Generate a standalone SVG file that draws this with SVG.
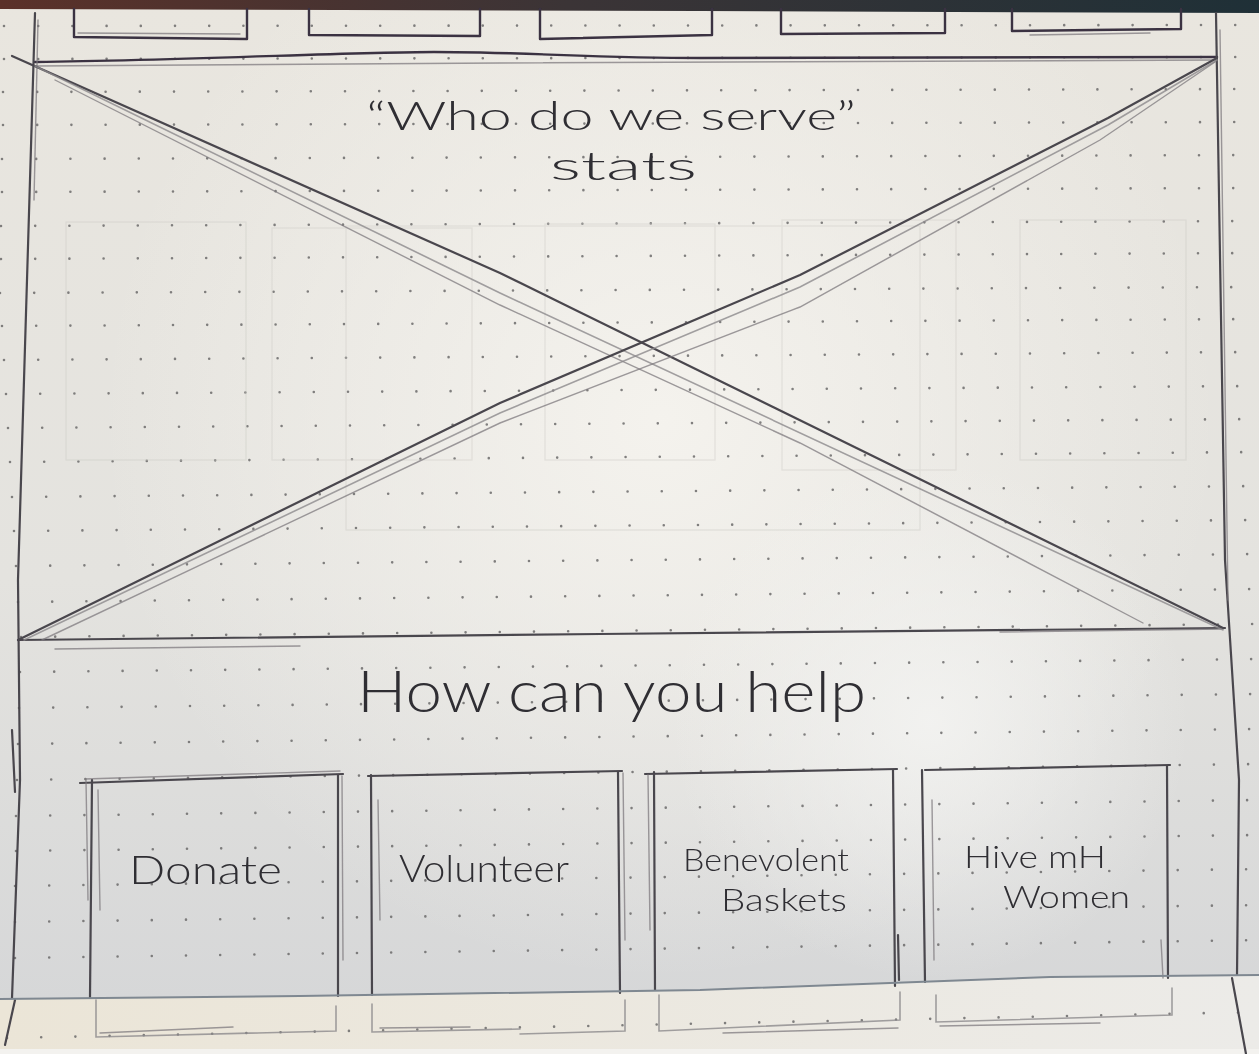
<svg xmlns="http://www.w3.org/2000/svg" width="1259" height="1054" viewBox="0 0 1259 1054">
  <defs>
    <linearGradient id="paperTone" x1="0" y1="0" x2="0" y2="1">
      <stop offset="0" stop-color="#e9e6df"/>
      <stop offset="0.55" stop-color="#e4e3df"/>
      <stop offset="0.95" stop-color="#d6d7d8"/>
    </linearGradient>
    <radialGradient id="glow" cx="660" cy="420" r="560" gradientUnits="userSpaceOnUse">
      <stop offset="0" stop-color="#f5f3ee" stop-opacity="0.95"/>
      <stop offset="1" stop-color="#f5f3ee" stop-opacity="0"/>
    </radialGradient>
    <radialGradient id="glow2" cx="930" cy="720" r="260" gradientUnits="userSpaceOnUse">
      <stop offset="0" stop-color="#f3f3f1" stop-opacity="0.9"/>
      <stop offset="1" stop-color="#f3f3f1" stop-opacity="0"/>
    </radialGradient>
    <linearGradient id="strip" x1="0" y1="0" x2="1" y2="0">
      <stop offset="0" stop-color="#5b3129"/>
      <stop offset="0.45" stop-color="#3b3436"/>
      <stop offset="1" stop-color="#1f3037"/>
    </linearGradient>
    <linearGradient id="lowerSheet" x1="0" y1="0" x2="1" y2="0">
      <stop offset="0" stop-color="#ebe5d7"/>
      <stop offset="1" stop-color="#ecebe8"/>
    </linearGradient>
    <filter id="pencil" x="-2%" y="-2%" width="104%" height="104%">
      <feGaussianBlur stdDeviation="0.45"/>
    </filter>
    <style>
      .pen  { fill: none; stroke: #4a464d; stroke-width: 2.2; stroke-linecap: round; stroke-linejoin: round; }
      .ink  { fill: none; stroke: #3b3342; stroke-width: 2.4; stroke-linecap: round; stroke-linejoin: round; }
      .pen2 { fill: none; stroke: #7d7a7e; stroke-width: 1.4; stroke-linecap: round; opacity: 0.75; }
      .soft { fill: none; stroke: #8c898c; stroke-width: 1.6; stroke-linecap: round; opacity: 0.8; }
      .ghost { fill: none; stroke: #cfcdc8; stroke-width: 1.3; opacity: 0.45; }
      .dots { fill: none; stroke: #6c6b6b; stroke-width: 2.6; stroke-linecap: round; stroke-dasharray: 0 34.2; opacity: 0.85; }
      .hand { font-family: "Lato", "Open Sans", "DejaVu Sans", sans-serif; font-weight: 300; fill: #2f2e33; }
    </style>
  </defs>

  <!-- paper -->
  <rect x="0" y="0" width="1259" height="1054" fill="url(#paperTone)"/>
  <rect x="0" y="0" width="1259" height="1054" fill="url(#glow)"/>
  <rect x="0" y="0" width="1259" height="1054" fill="url(#glow2)"/>
  <!-- lower sheet under the crease -->
  <path d="M0,999 L300,996 L700,990 L1050,977 L1259,975 V1054 H0 Z" fill="url(#lowerSheet)"/>
  <rect x="0" y="1049" width="1259" height="5" fill="#f3f2ef"/>
  <!-- dark table edge at top -->
  <path d="M0,0 H1259 V13 L700,11 L0,9 Z" fill="url(#strip)"/>

  <!-- dot grid rows -->
  <g id="dot-grid">
    <line class="dots" x1="4" y1="26" x2="1259" y2="25"/>
    <line class="dots" x1="4" y1="59" x2="1259" y2="57"/>
    <line class="dots" x1="3" y1="92" x2="1259" y2="89"/>
    <line class="dots" x1="3" y1="125" x2="1259" y2="122"/>
    <line class="dots" x1="2" y1="159" x2="1259" y2="155"/>
    <line class="dots" x1="2" y1="192" x2="1259" y2="188"/>
    <line class="dots" x1="1" y1="226" x2="1259" y2="221"/>
    <line class="dots" x1="1" y1="259" x2="1259" y2="253"/>
    <line class="dots" x1="0" y1="293" x2="1259" y2="287"/>
    <line class="dots" x1="2" y1="326" x2="1259" y2="319"/>
    <line class="dots" x1="4" y1="360" x2="1259" y2="352"/>
    <line class="dots" x1="6" y1="394" x2="1259" y2="386"/>
    <line class="dots" x1="8" y1="428" x2="1259" y2="419"/>
    <line class="dots" x1="10" y1="462" x2="1259" y2="452"/>
    <line class="dots" x1="12" y1="497" x2="1259" y2="486"/>
    <line class="dots" x1="14" y1="531" x2="1259" y2="520"/>
    <line class="dots" x1="16" y1="566" x2="1259" y2="554"/>
    <line class="dots" x1="18" y1="602" x2="1259" y2="589"/>
    <line class="dots" x1="21" y1="637" x2="1259" y2="624"/>
    <line class="dots" x1="20" y1="672" x2="1259" y2="659"/>
    <line class="dots" x1="19" y1="708" x2="1259" y2="694"/>
    <line class="dots" x1="18" y1="744" x2="1259" y2="729"/>
    <line class="dots" x1="17" y1="780" x2="1259" y2="764"/>
    <line class="dots" x1="16" y1="816" x2="1259" y2="800"/>
    <line class="dots" x1="16" y1="851" x2="1259" y2="835"/>
    <line class="dots" x1="15" y1="886" x2="1259" y2="869"/>
    <line class="dots" x1="15" y1="922" x2="1259" y2="905"/>
    <line class="dots" x1="15" y1="958" x2="1259" y2="940"/>
    <line class="dots" x1="7" y1="1038" x2="1259" y2="1012"/>
  </g>

  <!-- faint shapes showing through from the reverse side -->
  <g id="reverse-side" class="ghost">
    <rect x="66" y="222" width="180" height="238"/>
    <rect x="272" y="228" width="200" height="232"/>
    <rect x="346" y="226" width="574" height="304"/>
    <rect x="545" y="224" width="170" height="236"/>
    <rect x="782" y="220" width="174" height="250"/>
    <rect x="1020" y="220" width="166" height="240"/>
  </g>

  <g filter="url(#pencil)">
  <!-- tabs across the top -->
  <g id="tab-top-1"><path class="ink" d="M74,9 V37 L247,39 V9"/><path class="pen2" d="M78,33 L240,34"/></g>
  <g id="tab-top-2"><path class="ink" d="M309,9 V35 L480,36 V9"/></g>
  <g id="tab-top-3"><path class="ink" d="M540,9 V39 L712,35 V9"/></g>
  <g id="tab-top-4"><path class="ink" d="M781,9 V34 L945,33 V9"/></g>
  <g id="tab-top-5"><path class="ink" d="M1012,9 V31 L1181,29 V9"/><path class="pen2" d="M1030,35 L1150,33"/></g>

  <!-- page frame -->
  <g id="frame">
    <path class="ink" d="M35,62 C200,60 350,52 434,52 C520,52 600,58 700,58 L1217,57"/>
    <path class="pen2" d="M35,66 L500,63 L1217,60"/>
    <path class="pen" d="M35,13 L18,580 L20,780 L12,998"/>
    <path class="pen2" d="M38,20 L34,200"/>
    <path class="pen" d="M1216,13 L1225,560 L1239,780 L1237,975"/>
    <path class="pen2" d="M1220,30 L1228,600"/>
    <path class="pen" d="M15,1000 L5,1045"/>
    <path class="pen" d="M1232,978 L1246,1054"/>
    <path class="pen" d="M12,730 L15,792" stroke-width="3"/>
  </g>

  <!-- hero placeholder with crossed diagonals -->
  <g id="hero">
    <path class="pen" d="M18,640 L600,634 L1225,628"/>
    <path class="pen2" d="M55,649 L300,646"/>
    <path class="pen2" d="M1000,632 L1223,629"/>
    <path class="pen" d="M12,56 L500,273 L1223,628"/>
    <path class="soft" d="M35,66 L500,293 L1223,630"/>
    <path class="pen2" d="M55,80 L500,305 L800,443 L1143,623"/>
    <path class="pen" d="M18,640 L500,403 L800,275 L1108,118 L1217,58"/>
    <path class="soft" d="M24,640 L500,413 L800,287 L1108,125 L1217,60"/>
    <path class="pen2" d="M42,640 L500,423 L800,307 L1100,140 L1215,62"/>
  </g>

  <!-- four option cards: outlines -->
  <g id="card-donate-outline">
    <path class="pen" d="M80,783 L343,774"/>
    <path class="pen2" d="M85,779 L340,771"/>
    <path class="pen" d="M92,780 L90,998"/>
    <path class="pen2" d="M86,780 L88,900"/>
    <path class="pen2" d="M98,790 L100,910"/>
    <path class="pen" d="M338,775 L338,996"/>
    <path class="pen2" d="M342,776 L343,960"/>
  </g>
  <g id="card-volunteer-outline">
    <path class="pen" d="M368,776 L622,771"/>
    <path class="pen" d="M371,775 L372,995"/>
    <path class="pen2" d="M378,800 L380,920"/>
    <path class="pen" d="M618,772 L620,993"/>
    <path class="pen2" d="M623,773 L625,940"/>
  </g>
  <g id="card-baskets-outline">
    <path class="pen" d="M645,774 L897,769"/>
    <path class="pen" d="M654,772 L655,990"/>
    <path class="pen2" d="M648,775 L650,930"/>
    <path class="pen" d="M893,770 L895,986"/>
    <path class="pen" d="M898,935 L899,980"/>
  </g>
  <g id="card-hire-outline">
    <path class="pen" d="M925,770 L1170,765"/>
    <path class="pen" d="M922,770 L925,982"/>
    <path class="pen2" d="M932,800 L934,960"/>
    <path class="pen" d="M1167,766 L1168,978"/>
    <path class="pen2" d="M1161,940 L1163,978"/>
  </g>

  <!-- tabs along the bottom -->
  <g id="tab-bottom-1"><path class="soft" d="M96,1000 V1037 L336,1031 V1006"/><path class="pen2" d="M100,1033 L233,1027"/></g>
  <g id="tab-bottom-2"><path class="soft" d="M372,1004 V1032 L520,1029 M520,1034 L625,1031 V1000"/><path class="pen2" d="M380,1028 L470,1027"/></g>
  <g id="tab-bottom-3"><path class="soft" d="M659,995 V1031 L900,1020 V992"/><path class="pen2" d="M723,1033 L898,1028"/></g>
  <g id="tab-bottom-4"><path class="soft" d="M936,995 V1022 L1172,1015 V988"/><path class="pen2" d="M940,1026 L1100,1023"/></g>
  </g>

  <!-- page crease -->
  <path d="M0,999 L300,996 L700,990 L1050,977 L1259,975" fill="none" stroke="#7f8891" stroke-width="2"/>

  <!-- headings and card labels -->
  <g id="hero-title">
    <text class="hand" x="366" y="130" font-size="40" textLength="490" lengthAdjust="spacingAndGlyphs">“Who do we serve”</text>
    <text class="hand" x="550" y="180" font-size="40" textLength="147" lengthAdjust="spacingAndGlyphs">stats</text>
  </g>
  <g id="help-heading">
    <text class="hand" x="357" y="712" font-size="58" textLength="509" lengthAdjust="spacingAndGlyphs">How can you help</text>
  </g>
  <g id="card-donate">
    <text class="hand" x="129" y="884" font-size="40" textLength="153" lengthAdjust="spacingAndGlyphs">Donate</text>
  </g>
  <g id="card-volunteer">
    <text class="hand" x="399" y="882" font-size="38" textLength="170" lengthAdjust="spacingAndGlyphs">Volunteer</text>
  </g>
  <g id="card-baskets">
    <text class="hand" x="683" y="871" font-size="32" textLength="166" lengthAdjust="spacingAndGlyphs">Benevolent</text>
    <text class="hand" x="721" y="911" font-size="32" textLength="126" lengthAdjust="spacingAndGlyphs">Baskets</text>
  </g>
  <g id="card-hire">
    <text class="hand" x="964" y="868" font-size="32" textLength="142" lengthAdjust="spacingAndGlyphs">Hive mH</text>
    <text class="hand" x="1003" y="908" font-size="32" textLength="127" lengthAdjust="spacingAndGlyphs">Women</text>
  </g>
</svg>
